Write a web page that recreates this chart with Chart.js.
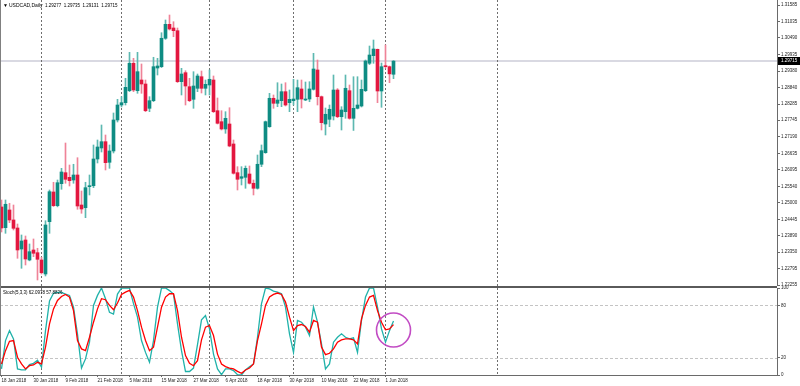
<!DOCTYPE html>
<html>
<head>
<meta charset="utf-8">
<script src="https://cdn.jsdelivr.net/npm/chart.js@4.4.0/dist/chart.umd.min.js"></script>
<style>
  html, body { margin: 0; padding: 0; background: #fff; }
  #wrap { position: relative; width: 800px; height: 386px; }
  #priceBox { position: absolute; left: 0; top: 0; width: 800px; height: 286px; }
  #stochBox { position: absolute; left: 0; top: 286px; width: 800px; height: 100px; }
</style>
</head>
<body>
<div id="wrap">
  <div id="priceBox"><canvas id="price"></canvas></div>
  <div id="stochBox"><canvas id="stoch"></canvas></div>
</div>
<script>
const symbolTitle = "USDCAD,Daily";

// daily bars, index 0 = 18 Jan 2018
const opens = [1.24855, 1.24165, 1.24755, 1.24422, 1.24155, 1.23455, 1.23755, 1.23089, 1.23422, 1.23332,
  1.23089, 1.22622, 1.24365, 1.25355, 1.24898, 1.25631, 1.25998, 1.25844, 1.25754, 1.25921,
  1.24921, 1.24831, 1.25531, 1.25564, 1.26454, 1.26821, 1.27031, 1.26344, 1.26721, 1.27754,
  1.28253, 1.28330, 1.28730, 1.29643, 1.28730, 1.29086, 1.28953, 1.28143, 1.28397, 1.29486,
  1.29530, 1.30476, 1.30942, 1.30819, 1.30729, 1.29030, 1.29330, 1.28863, 1.28443, 1.28810,
  1.29196, 1.28810, 1.28920, 1.29086, 1.28063, 1.27697, 1.27454, 1.27620, 1.26954, 1.25998,
  1.25811, 1.25844, 1.25954, 1.25645, 1.25478, 1.26278, 1.26664, 1.27530, 1.28477, 1.28310,
  1.28397, 1.28697, 1.28330, 1.28397, 1.28443, 1.28787, 1.28420, 1.28453, 1.28776, 1.29420,
  1.28530, 1.27620, 1.27777, 1.27887, 1.28753, 1.27863, 1.28030, 1.28730, 1.27810, 1.28143,
  1.28220, 1.28730, 1.29643, 1.29896, 1.30109, 1.28720, 1.29553, 1.29530, 1.29277];
const highs = [1.25088, 1.25088, 1.24978, 1.24921, 1.24288, 1.23922, 1.23888, 1.23622, 1.23789, 1.23479,
  1.23179, 1.24398, 1.25421, 1.25678, 1.25754, 1.26144, 1.26987, 1.26254, 1.26278, 1.26497,
  1.25388, 1.25678, 1.25921, 1.26921, 1.27087, 1.27587, 1.27254, 1.26921, 1.27987, 1.28443,
  1.28530, 1.29143, 1.30009, 1.29809, 1.30009, 1.29620, 1.29086, 1.28530, 1.29843, 1.29809,
  1.30662, 1.31086, 1.31252, 1.31029, 1.30819, 1.29476, 1.29396, 1.29143, 1.29363, 1.29286,
  1.29386, 1.29086, 1.29420, 1.29220, 1.28487, 1.28063, 1.28030, 1.28163, 1.27087, 1.26198,
  1.26198, 1.26221, 1.26221, 1.25754, 1.26587, 1.26921, 1.27720, 1.28643, 1.28587, 1.28996,
  1.28953, 1.28996, 1.28753, 1.29110, 1.29086, 1.29086, 1.29020, 1.29030, 1.29976, 1.29753,
  1.28553, 1.28153, 1.28253, 1.29253, 1.28800, 1.28197, 1.29253, 1.28920, 1.29196, 1.29196,
  1.29086, 1.29753, 1.30219, 1.30419, 1.30119, 1.29653, 1.30253, 1.29553, 1.29735];
const lows = [1.24022, 1.23978, 1.24332, 1.24088, 1.23145, 1.22812, 1.22922, 1.23060, 1.23199, 1.22422,
  1.22622, 1.22556, 1.23978, 1.24870, 1.24860, 1.25445, 1.25645, 1.25554, 1.25645, 1.24778,
  1.24645, 1.24498, 1.25255, 1.25500, 1.26321, 1.26687, 1.26088, 1.26144, 1.26654, 1.27687,
  1.28187, 1.28253, 1.28697, 1.28697, 1.28643, 1.28643, 1.28030, 1.28030, 1.28364, 1.29253,
  1.29500, 1.30440, 1.30752, 1.30529, 1.29000, 1.28587, 1.28253, 1.28364, 1.28143, 1.28697,
  1.28653, 1.28587, 1.28587, 1.28000, 1.27620, 1.27420, 1.27310, 1.26860, 1.25950, 1.25421,
  1.25588, 1.25478, 1.25620, 1.25255, 1.25450, 1.26198, 1.26644, 1.27510, 1.28143, 1.28197,
  1.28197, 1.28220, 1.28030, 1.28253, 1.28030, 1.28153, 1.28397, 1.28363, 1.28750, 1.28253,
  1.27420, 1.27254, 1.27530, 1.27754, 1.27830, 1.27420, 1.27810, 1.27780, 1.27405, 1.28120,
  1.28187, 1.28700, 1.29600, 1.29643, 1.28330, 1.28177, 1.29480, 1.28996, 1.29131];
const closes = [1.24155, 1.24945, 1.24422, 1.24145, 1.23422, 1.23722, 1.23122, 1.23365, 1.23312, 1.23112,
  1.22665, 1.24255, 1.25365, 1.24898, 1.25664, 1.26021, 1.25778, 1.25731, 1.25921, 1.24888,
  1.24788, 1.25498, 1.25564, 1.26454, 1.26854, 1.27031, 1.26331, 1.26721, 1.27754, 1.28253,
  1.28330, 1.28843, 1.29643, 1.28753, 1.29363, 1.28953, 1.28063, 1.28397, 1.29530, 1.29553,
  1.30476, 1.30942, 1.30786, 1.30729, 1.29030, 1.29286, 1.28886, 1.28397, 1.28886, 1.29220,
  1.28810, 1.28943, 1.29110, 1.28030, 1.27644, 1.27454, 1.27810, 1.26887, 1.25978, 1.25778,
  1.25864, 1.26144, 1.25645, 1.25478, 1.26278, 1.26731, 1.27697, 1.28477, 1.28310, 1.28420,
  1.28697, 1.28253, 1.28443, 1.28453, 1.28830, 1.28453, 1.28453, 1.28787, 1.29453, 1.28530,
  1.27664, 1.27944, 1.28110, 1.28753, 1.27863, 1.28087, 1.28810, 1.27810, 1.28143, 1.28253,
  1.28776, 1.29719, 1.29919, 1.30119, 1.28720, 1.29530, 1.29530, 1.29290, 1.29715];

// Stoch(5,3,3)
const stochK = [7, 39.6, 51, 41.5, 7, 6, 6, 12, 13.4, 17,
  9, 51, 85, 94, 95, 95, 93, 91.5, 78, 47,
  8, 18.5, 37.7, 80, 91.5, 100, 87.7, 72, 70, 93,
  100, 100, 100, 82, 66.5, 39.6, 26, 14.6, 39.6, 78,
  100, 100, 97, 93, 58.8, 28, 4, 4, 8, 35,
  63.4, 68.4, 53, 24, 7, 0.4, 7, 7, 5, 0.4,
  0, 5.8, 9.6, 12.7, 43.4, 82, 100, 99, 96.5, 95.3,
  93.4, 78, 47.3, 26, 62.7, 60.7, 55, 45.4, 78, 60.7,
  35.7, 7, 12.7, 37.7, 43.4, 47.3, 43.4, 41.5, 42.7, 26,
  62.7, 89.6, 100, 100, 78, 53, 37.7, 51, 62.0978];
const stochD = [12.7, 28, 38.8, 39.6, 20.4, 12.7, 7, 10.7, 11.5, 14.6,
  12.7, 32, 58.8, 76, 85.7, 90.3, 92.6, 89.6, 74, 39.6,
  30, 28, 43.4, 60.7, 76, 87.7, 86.5, 80, 75, 82.7,
  92.6, 95.3, 97.3, 89.6, 74, 55, 39.6, 28, 32, 55,
  78, 89.6, 93.4, 93.4, 74, 43.4, 22.3, 13.5, 10.7, 16.5,
  40.4, 55, 56.9, 45.4, 24, 12.7, 9.6, 8, 7, 4.2,
  1.9, 5.8, 8, 12.7, 39.6, 58.8, 80, 89.6, 92.6, 94.2,
  92.6, 83.8, 66.5, 51, 56.9, 58, 55.7, 49.2, 62.7, 60.7,
  32, 23.4, 25, 30, 37.7, 40.4, 41.5, 41.5, 40.4, 35.7,
  64.6, 80, 89.6, 91.5, 74, 60.7, 51.9, 53, 57.8826];

const priceTicks = [1.31585, 1.31035, 1.30490, 1.29935, 1.29380, 1.28840, 1.28285, 1.27745, 1.27190,
  1.26635, 1.26095, 1.25540, 1.25000, 1.24445, 1.23890, 1.23350, 1.22795, 1.22255];
const stochTicks = [0, 20, 80, 100];
const dateTicks = [0, 8, 16, 24, 32, 40, 48, 56, 64, 72, 80, 88, 96];
const dateLabels = ["18 Jan 2018", "30 Jan 2018", "9 Feb 2018", "21 Feb 2018", "5 Mar 2018", "15 Mar 2018",
  "27 Mar 2018", "6 Apr 2018", "18 Apr 2018", "30 Apr 2018", "10 May 2018", "22 May 2018", "1 Jun 2018"];
const monthStarts = [10, 30, 52, 73, 96, 124];
const circledBar = 98;
const circledLevel = 51.7;

const FONT = "Liberation Sans";
const UP = "#0e8c83";
const DOWN = "#e3173f";
const UP_WICK = "#5db8b1";
const DOWN_WICK = "#ef8398";
const last = closes.length - 1;

const xRange = { type: "linear", min: -0.375, max: 193.875, offset: false };

function fixWidth(w) {
  return (s) => { s.width = w; s.paddingTop = 0; s.paddingBottom = 0; };
}

function dashedMonths(chart) {
  const { ctx, chartArea: a, scales: { x } } = chart;
  ctx.save();
  ctx.strokeStyle = "#6e6e6e";
  ctx.lineWidth = 1;
  ctx.setLineDash([2, 2]);
  monthStarts.forEach((k) => {
    const px = Math.floor(x.getPixelForValue(k)) + 0.5;
    ctx.beginPath();
    ctx.moveTo(px, a.top);
    ctx.lineTo(px, a.bottom);
    ctx.stroke();
  });
  ctx.restore();
}

const priceDecor = {
  id: "priceDecor",
  beforeDatasetsDraw(chart) {
    const { ctx, chartArea: a, scales: { y } } = chart;
    const yb = Math.round(y.getPixelForValue(closes[last]));
    ctx.save();
    ctx.fillStyle = "#d9d9e2";
    ctx.fillRect(a.left, yb - 1, a.right - a.left, 2);
    ctx.restore();
    dashedMonths(chart);
  },
  afterDraw(chart) {
    const { ctx, chartArea: a, scales: { y } } = chart;
    const yb = Math.round(y.getPixelForValue(closes[last]));
    ctx.save();
    ctx.fillStyle = "#808080";
    ctx.fillRect(0, 0, 1, chart.height);
    ctx.fillStyle = "#000";
    ctx.textBaseline = "middle";
    ctx.font = "5px " + FONT;
    ctx.fillText("\u25BC", 3, 6);
    ctx.fillText(symbolTitle, 9, 6);
    ctx.font = "4.5px " + FONT;
    const ohlc = [opens[last], highs[last], lows[last], closes[last]].map((v) => v.toFixed(5)).join("  ");
    ctx.fillText(ohlc, 45, 6);
    ctx.fillStyle = "#000";
    ctx.fillRect(a.right + 1, yb - 4, 22, 8);
    ctx.fillStyle = "#fff";
    ctx.fillText(closes[last].toFixed(5), a.right + 4, yb);
    ctx.restore();
  },
};

const stochDecor = {
  id: "stochDecor",
  beforeDatasetsDraw(chart) {
    const { ctx, chartArea: a, scales: { y } } = chart;
    ctx.save();
    ctx.strokeStyle = "#c4c4c4";
    ctx.lineWidth = 1;
    ctx.setLineDash([3, 2]);
    [80, 20].forEach((lv) => {
      const py = Math.round(y.getPixelForValue(lv)) + 0.5;
      ctx.beginPath();
      ctx.moveTo(a.left, py);
      ctx.lineTo(a.right, py);
      ctx.stroke();
    });
    ctx.restore();
    dashedMonths(chart);
  },
  afterDraw(chart) {
    const { ctx, chartArea: a, scales: { x, y } } = chart;
    ctx.save();
    ctx.fillStyle = "#5a5a5a";
    ctx.fillRect(0, 0, a.right, 2);
    ctx.fillStyle = "#808080";
    ctx.fillRect(0, 0, 1, a.bottom);
    ctx.fillStyle = "#000";
    ctx.textBaseline = "middle";
    ctx.font = "4.5px " + FONT;
    ctx.fillText("Stoch(5,3,3) " + stochK[last].toFixed(4) + " " + stochD[last].toFixed(4), 3, 7);
    ctx.strokeStyle = "#c24cc4";
    ctx.lineWidth = 1.6;
    ctx.beginPath();
    ctx.arc(x.getPixelForValue(circledBar), y.getPixelForValue(circledLevel), 17, 0, Math.PI * 2);
    ctx.stroke();
    ctx.restore();
  },
};

const bars = closes.map((c, i) => i);
const isUp = bars.map((i) => closes[i] >= opens[i]);

new Chart(document.getElementById("price"), {
  type: "bar",
  data: {
    datasets: [
      {
        label: "body",
        data: bars.map((i) => ({ x: i, y: [opens[i], closes[i]] })),
        backgroundColor: isUp.map((u) => (u ? UP : DOWN)),
        barThickness: 3,
        minBarLength: 1,
        grouped: false,
        borderWidth: 0,
      },
      {
        label: "wick",
        data: bars.map((i) => ({ x: i, y: [lows[i], highs[i]] })),
        backgroundColor: isUp.map((u) => (u ? UP_WICK : DOWN_WICK)),
        barThickness: 1,
        grouped: false,
        borderWidth: 0,
      },
    ],
  },
  options: {
    responsive: true,
    maintainAspectRatio: false,
    animation: false,
    layout: { padding: 0 },
    plugins: { legend: { display: false }, tooltip: { enabled: false } },
    scales: {
      x: { ...xRange, display: false },
      y: {
        position: "right",
        min: 1.22222,
        max: 1.31752,
        afterBuildTicks: (s) => { s.ticks = priceTicks.map((v) => ({ value: v })); },
        afterFit: fixWidth(23),
        border: { display: true, color: "#6a6a6a" },
        grid: { drawOnChartArea: false, tickLength: 3, color: "#6a6a6a" },
        ticks: {
          color: "#222",
          padding: 1,
          font: { family: FONT, size: 4.5 },
          callback: (v) => v.toFixed(5),
        },
      },
    },
  },
  plugins: [priceDecor],
});

new Chart(document.getElementById("stoch"), {
  type: "line",
  data: {
    datasets: [
      {
        label: "%D",
        data: bars.map((i) => ({ x: i, y: stochD[i] })),
        borderColor: "#ff0000",
        borderWidth: 1.3,
        pointRadius: 0,
        tension: 0,
      },
      {
        label: "%K",
        data: bars.map((i) => ({ x: i, y: stochK[i] })),
        borderColor: "#20b2aa",
        borderWidth: 1.3,
        pointRadius: 0,
        tension: 0,
      },
    ],
  },
  options: {
    responsive: true,
    maintainAspectRatio: false,
    animation: false,
    layout: { padding: { top: 2 } },
    plugins: { legend: { display: false }, tooltip: { enabled: false } },
    scales: {
      x: {
        ...xRange,
        afterBuildTicks: (s) => { s.ticks = dateTicks.map((v) => ({ value: v })); },
        afterFit: (s) => { s.height = 11; s.paddingLeft = 0; s.paddingRight = 0; },
        border: { display: true, color: "#6a6a6a" },
        grid: { drawOnChartArea: false, tickLength: 2, color: "#6a6a6a" },
        ticks: {
          color: "#222",
          padding: 1,
          align: "start",
          maxRotation: 0,
          autoSkip: false,
          font: { family: FONT, size: 4.5 },
          callback: (v) => dateLabels[dateTicks.indexOf(v)] ?? "",
        },
      },
      y: {
        position: "right",
        min: 0,
        max: 100,
        afterBuildTicks: (s) => { s.ticks = stochTicks.map((v) => ({ value: v })); },
        afterFit: fixWidth(23),
        border: { display: true, color: "#6a6a6a" },
        grid: { drawOnChartArea: false, tickLength: 3, color: "#6a6a6a" },
        ticks: { color: "#222", padding: 1, font: { family: FONT, size: 4.5 } },
      },
    },
  },
  plugins: [stochDecor],
});
</script>
</body>
</html>
